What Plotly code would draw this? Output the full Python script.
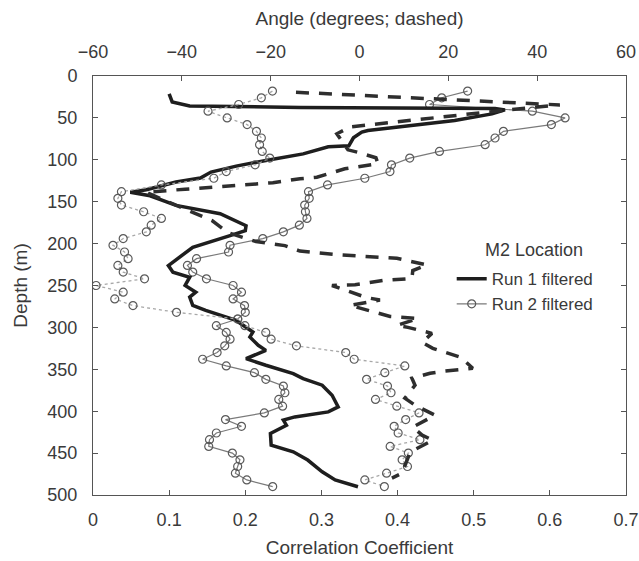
import plotly.graph_objects as go

# ---------------- data ----------------
# Run 1 (filtered) correlation coefficient profile
run1_corr_depth = [21.4, 31.0, 35.7, 37.5, 38.7, 40.5, 45.2, 53.2, 65.1, 67.0, 73.8, 83.3, 84.5,
                   92.9, 100.8, 107.5, 114.6, 121.8, 126.5, 135.7, 138.7, 142.9, 154.4, 164.3,
                   178.6, 184.5, 190.5, 204.4, 226.2, 234.2, 240.1, 250.0, 258.0, 263.9, 273.8,
                   279.8, 291.7, 305.6, 311.5, 321.4, 327.4, 337.3, 345.2, 355.1, 361.1, 369.0,
                   381.0, 394.9, 400.8, 406.8, 410.7, 416.7, 426.5, 440.5, 448.5, 458.3, 472.3,
                   482.1, 490.1]
run1_corr = [0.100, 0.104, 0.127, 0.272, 0.528, 0.541, 0.524, 0.475, 0.361, 0.353, 0.342, 0.336,
             0.309, 0.276, 0.227, 0.188, 0.155, 0.141, 0.109, 0.070, 0.049, 0.075, 0.109, 0.167,
             0.201, 0.200, 0.180, 0.131, 0.099, 0.105, 0.127, 0.121, 0.135, 0.127, 0.131, 0.148,
             0.188, 0.210, 0.206, 0.217, 0.227, 0.201, 0.227, 0.263, 0.276, 0.301, 0.314, 0.322,
             0.309, 0.265, 0.250, 0.254, 0.233, 0.234, 0.263, 0.282, 0.301, 0.318, 0.348]

# Run 1 (filtered) angle profile (degrees)
run1_ang_depth = [19.4, 34.5, 41.7, 60.7, 69.0, 88.1, 91.7, 97.6, 104.8, 108.9, 110.7, 120.8,
                  122.6, 127.4, 129.8, 132.7, 135.1, 138.7, 172.6, 186.9, 197.6, 202.4, 208.9,
                  213.5, 217.5, 225.4, 232.1, 241.7, 244.0, 249.2, 250.0, 264.3, 267.3, 273.8,
                  286.9, 289.3, 297.6, 300.0, 307.1, 317.9, 325.0, 335.7, 348.8, 352.4, 354.8,
                  360.7, 369.0, 384.5, 392.9, 404.8, 419.0, 428.6, 434.5, 448.8, 458.3, 473.8,
                  479.8]
run1_ang = [-14.3, 45.1, 31.2, -2.1, -5.1, -2.6, 0.1, 3.7, 4.2, -0.6, -3.3, -9.6, -13.4, -19.5,
            -26.2, -33.0, -39.3, -48.1, -33.2, -29.6, -23.3, -16.8, -13.4, -4.4, 8.4, 15.2, 12.0,
            11.8, 5.3, -1.0, -6.2, 1.5, 4.6, -2.1, 6.9, 13.2, 8.4, 10.9, 16.3, 14.1, 16.5, 22.8,
            25.5, 18.8, 15.9, 11.8, 12.5, 10.2, 12.5, 17.0, 12.0, 14.1, 16.5, 11.4, 10.7, 9.6, 7.3]

# Run 2 (filtered) profiles, common depth list
run2_depth = [18, 26, 34, 42, 50, 58, 66, 74, 82, 90, 98, 106, 114, 122, 130, 138, 146, 154,
              162, 170, 178, 186, 194, 202, 210, 218, 226, 234, 242, 250, 258, 266, 274, 282,
              290, 298, 306, 314, 322, 330, 338, 346, 354, 362, 370, 378, 386, 394, 402, 410,
              418, 426, 434, 442, 450, 458, 466, 474, 482, 490]
run2_corr = [0.492, 0.458, 0.442, 0.577, 0.620, 0.602, 0.539, 0.528, 0.515, 0.455, 0.416, 0.392,
             0.390, 0.357, 0.308, 0.283, 0.284, 0.278, 0.279, 0.281, 0.271, 0.250, 0.223, 0.180,
             0.178, 0.136, 0.124, 0.131, 0.149, 0.184, 0.195, 0.184, 0.199, 0.200, 0.190, 0.162,
             0.175, 0.180, 0.173, 0.163, 0.144, 0.175, 0.212, 0.227, 0.250, 0.252, 0.244, 0.249,
             0.225, 0.174, 0.195, 0.162, 0.153, 0.152, 0.183, 0.193, 0.190, 0.187, 0.202, 0.236]
run2_ang = [-19.6, -22.1, -27.2, -34.1, -29.8, -25.3, -23.2, -22.1, -22.5, -21.9, -20.2, -23.5,
            -30.0, -32.8, -44.6, -53.6, -54.4, -53.6, -48.6, -44.6, -46.9, -48.0, -53.2, -55.5,
            -52.9, -52.1, -54.4, -53.2, -48.4, -59.3, -53.2, -55.1, -51.0, -41.2, -27.4, -25.8,
            -21.1, -19.9, -14.2, -3.1, -1.2, 10.2, 5.7, 1.6, 6.3, 7.1, 3.6, 8.4, 13.4, 10.4, 7.8,
            8.7, 13.6, 6.9, 11.0, 9.6, 10.8, 6.1, 1.2, 5.6]

corr_ticks = [0, 0.1, 0.2, 0.3, 0.4, 0.5, 0.6, 0.7]
angle_ticks = [-60, -40, -20, 0, 20, 40, 60]
depth_ticks = [0, 50, 100, 150, 200, 250, 300, 350, 400, 450, 500]

# ---------------- figure ----------------
FONT = "Liberation Sans, Arial, sans-serif"
TXT = "#3a3a3a"
AX = "#555555"

fig = go.Figure()

fig.add_trace(go.Scatter(
    x=run2_ang, y=run2_depth, xaxis="x2", yaxis="y", mode="lines+markers",
    line=dict(color="#a8a8a8", width=1.3, dash="3px,3px"),
    marker=dict(symbol="circle-open", size=8, color="#5a5a5a", line=dict(width=1.2)),
    showlegend=False))

fig.add_trace(go.Scatter(
    x=run1_ang, y=run1_ang_depth, xaxis="x2", yaxis="y", mode="lines",
    line=dict(color="#2e2e2e", width=3.5, dash="13px,10px"),
    showlegend=False))

fig.add_trace(go.Scatter(
    x=run2_corr, y=run2_depth, xaxis="x", yaxis="y", mode="lines+markers",
    name="Run 2 filtered",
    line=dict(color="#7a7a7a", width=1.2),
    marker=dict(symbol="circle-open", size=8, color="#5a5a5a", line=dict(width=1.2))))

fig.add_trace(go.Scatter(
    x=run1_corr, y=run1_corr_depth, xaxis="x", yaxis="y", mode="lines",
    name="Run 1 filtered",
    line=dict(color="#1e1e1e", width=3.5)))

axis_common = dict(ticks="inside", ticklen=5, tickcolor=AX, showline=True, linecolor=AX,
                   linewidth=1, showgrid=False, zeroline=False, automargin=False,
                   tickfont=dict(size=18, color=TXT))

fig.update_layout(
    width=639, height=561,
    margin=dict(l=93, r=13, t=76, b=66),
    paper_bgcolor="white", plot_bgcolor="white",
    font=dict(family=FONT, size=18, color=TXT),
    xaxis=dict(range=[0, 0.7], tickvals=corr_ticks, ticktext=[str(v) for v in corr_ticks],
               ticklabelstandoff=8,
               title=dict(text="Correlation Coefficient", standoff=12,
                          font=dict(size=19, color=TXT)), **axis_common),
    xaxis2=dict(range=[-60, 60], tickvals=angle_ticks, overlaying="x", side="top",
                ticklabelstandoff=10,
                title=dict(text="Angle (degrees; dashed)", standoff=11,
                           font=dict(size=19, color=TXT)), **axis_common),
    yaxis=dict(range=[500, 0], tickvals=depth_ticks, mirror="ticks", ticklabelstandoff=11,
               title=dict(text="Depth (m)", standoff=14, font=dict(size=19, color=TXT)),
               **axis_common),
    legend=dict(x=0.673, y=0.558, xanchor="left", yanchor="top",
                bgcolor="rgba(0,0,0,0)", borderwidth=0,
                font=dict(size=17, color=TXT), tracegroupgap=0,
                traceorder="reversed", itemwidth=30),
    annotations=[dict(text="M2 Location", x=0.732, y=0.585, xref="paper", yref="paper",
                      xanchor="left", yanchor="middle", showarrow=False,
                      font=dict(size=18, color=TXT))],
)

fig.write_html("out.html")
